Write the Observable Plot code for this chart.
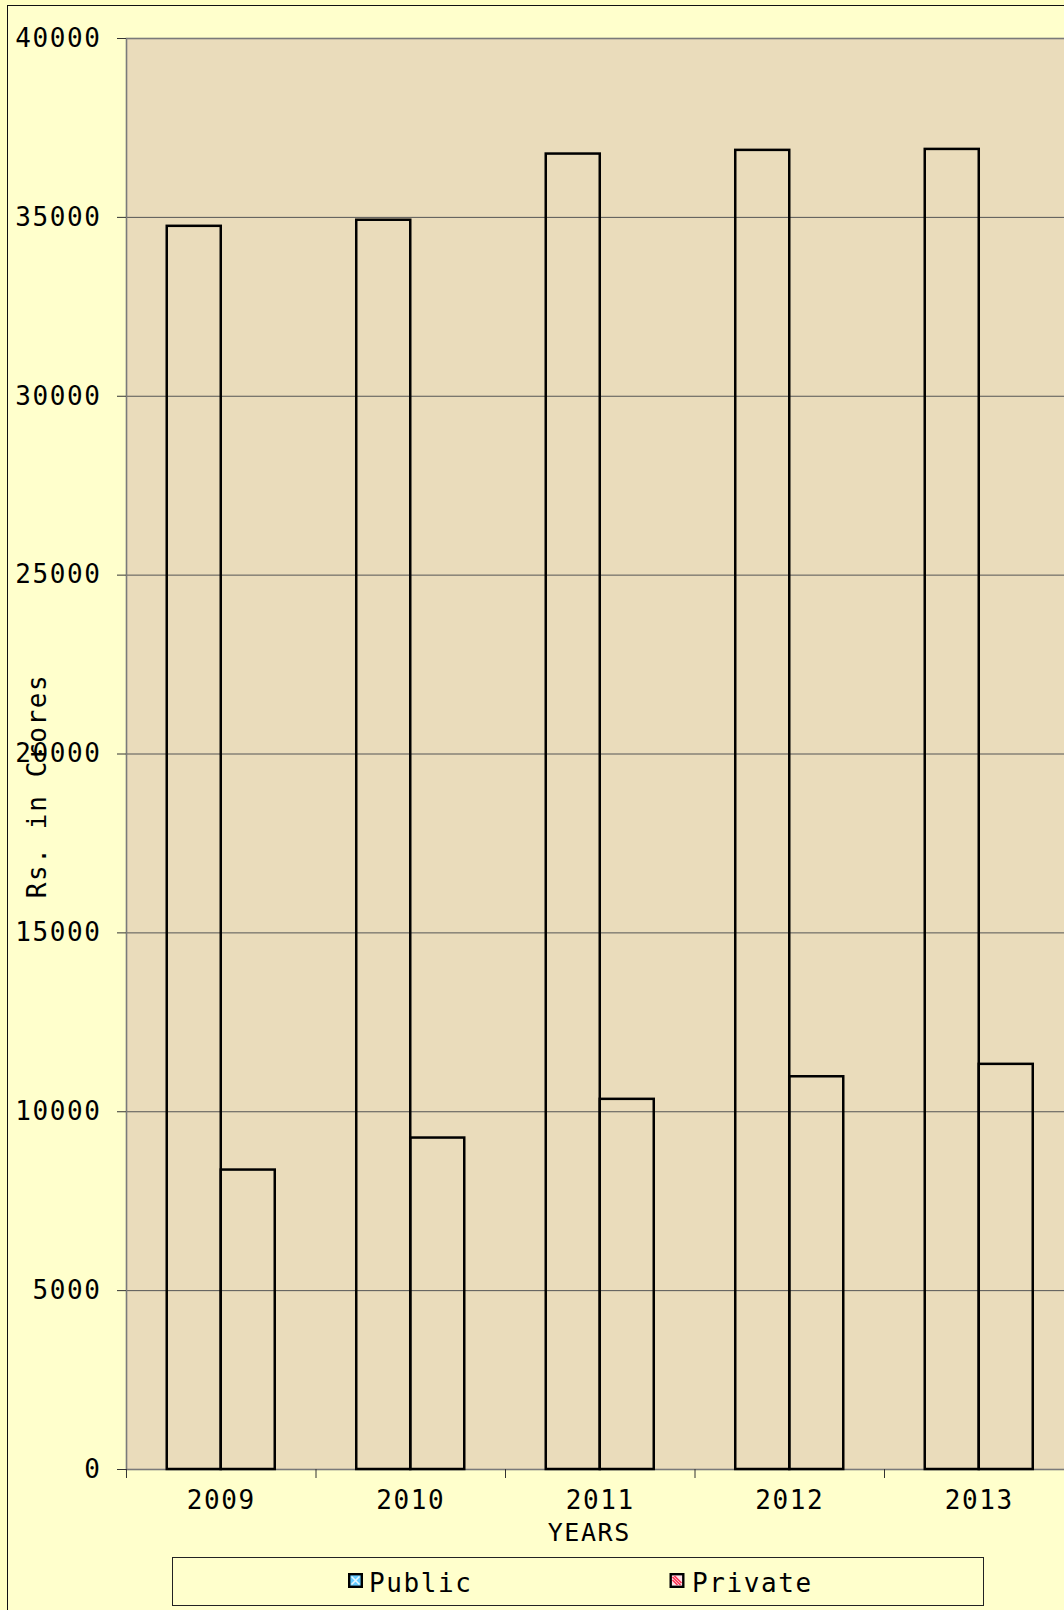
<!DOCTYPE html>
<html><head><meta charset="utf-8">
<script src="https://cdn.jsdelivr.net/npm/d3@7"></script>
<script src="https://cdn.jsdelivr.net/npm/@observablehq/plot@0.6"></script>
<style>
html,body{margin:0;padding:0;background:#FFFFC2;overflow:hidden;width:1064px;height:1610px;position:relative;}
#frame{position:absolute;left:7px;top:5px;width:1100px;height:1700px;border-left:1.5px solid #111;border-top:1.5px solid #111;background:#FFFFCC;}
#chart{position:absolute;left:0;top:0;width:1080px;}
#chart svg{max-width:none !important;}
.lg{position:absolute;font-family:"DejaVu Sans Mono",monospace;font-size:26px;letter-spacing:1.6px;color:#000;line-height:1;}
#legend{position:absolute;left:172px;top:1557px;width:810px;height:47px;border:1px solid #222;}
.sw{position:absolute;width:15px;height:15px;}
</style>
</head><body>
<div id="frame"></div>
<div id="chart"></div>
<div id="legend"></div>
<script>
const years = ["2009", "2010", "2011", "2012", "2013"];
const publicVals = [34750, 34920, 36770, 36873, 36900];
const privateVals = [8370, 9265, 10347, 10978, 11325];
const yTicks = [0, 5000, 10000, 15000, 20000, 25000, 30000, 35000, 40000];
const seriesNames = ["Public", "Private"];
const yLabel = "Rs. in Crores";
const xLabel = "YEARS";

const data = years.map((y, i) => ({year: y, public: publicVals[i], private: privateVals[i]}));

const W = 1080, H = 1550;
const chart = Plot.plot({
  width: W, height: H,
  marginLeft: 126, marginRight: 6.5, marginTop: 38, marginBottom: 81,
  style: {fontFamily: "DejaVu Sans Mono, monospace", fontSize: "26px", letterSpacing: "1.6px", background: "transparent", overflow: "visible", color: "#000", maxWidth: "none"},
  x: {type: "band", domain: years, paddingInner: 0.43, paddingOuter: 0.215, round: false, axis: null},
  y: {domain: [0, 40000], axis: null},
  marks: [
    Plot.frame({fill: "#EADCBB", stroke: "none"}),
    Plot.ruleY(yTicks, {stroke: "#555", strokeWidth: 1}),
    Plot.frame({stroke: "#7a7a7a", strokeWidth: 1.6, fill: "none"}),
    Plot.barY(data, {x: "year", y: "public", fill: "none", stroke: "#000", strokeWidth: 2.5, insetRight: 54}),
    Plot.barY(data, {x: "year", y: "private", fill: "none", stroke: "#000", strokeWidth: 2.5, insetLeft: 54}),
    Plot.axisY(yTicks, {tickSize: 9, tickPadding: 16, fontSize: 26, label: null, stroke: "#333", tickFormat: d => String(d)}),
    Plot.axisX(years, {tickSize: 0, tickPadding: 21, fontSize: 26, label: null}),
    Plot.axisX(years, {tickSize: 9, tickFormat: () => "", dx: -94.75, label: null, stroke: "#333"}),
    Plot.text([yLabel], {text: d => d, frameAnchor: "left", textAnchor: "middle", rotate: -90, dx: -89, dy: 32, fontSize: 26}),
    Plot.text([xLabel], {text: d => d, frameAnchor: "bottom", textAnchor: "middle", dx: -11, dy: 71, fontSize: 25})
  ]
});
document.getElementById("chart").appendChild(chart);

// legend
const pubSw = `<svg class="sw" style="left:348px;top:1573px" viewBox="0 0 15 15"><rect x="1.2" y="1.2" width="12.6" height="12.6" fill="#66CCFF" stroke="#000" stroke-width="2.4"/><path d="M3.5 3.5L11.5 11.5M11.5 3.5L3.5 11.5" stroke="#E8F8FF" stroke-width="1.6"/></svg>`;
const privSw = `<svg class="sw" style="left:669px;top:1573px;width:16px" viewBox="0 0 15 15"><rect x="1.2" y="1.2" width="12.6" height="12.6" fill="#FFE0E8" stroke="#000" stroke-width="2.4"/><path d="M3 4L11 12M5 3L12 10M3 7L8 12" stroke="#FF3050" stroke-width="1.5"/></svg>`;
document.body.insertAdjacentHTML("beforeend",
  pubSw + `<div class="lg" style="left:369px;top:1570px">${seriesNames[0]}</div>` +
  privSw + `<div class="lg" style="left:692px;top:1570px">${seriesNames[1]}</div>`);
</script>
</body></html>
